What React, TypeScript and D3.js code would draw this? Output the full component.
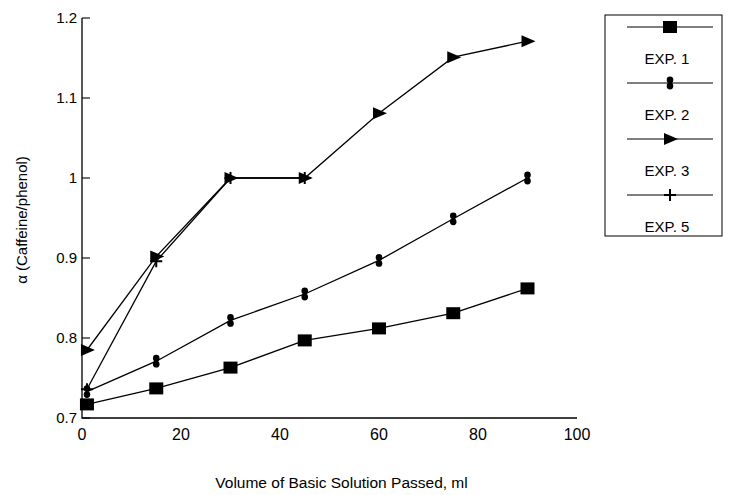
import React from "react";
import * as d3 from "d3";

const volumes = [1, 15, 30, 45, 60, 75, 90];
const exp1 = [0.717, 0.737, 0.763, 0.797, 0.812, 0.831, 0.862];
const exp2 = [0.733, 0.771, 0.822, 0.855, 0.897, 0.949, 1.0];
const exp3 = [0.785, 0.902, 1.0, 1.0, 1.081, 1.151, 1.171];
const exp5Volumes = [1, 15, 30, 45];
const exp5 = [0.736, 0.896, 1.0, 1.0];

const yTicks = [0.7, 0.8, 0.9, 1, 1.1, 1.2];
const xTicks = [0, 20, 40, 60, 80, 100];
const legendLabels = ["EXP. 1", "EXP. 2", "EXP. 3", "EXP. 5"];

const W = 730;
const H = 495;
const x = d3.scaleLinear().domain([0, 100]).range([82, 577]);
const y = d3.scaleLinear().domain([0.7, 1.2]).range([418, 18]);
const font = "'Liberation Sans', 'DejaVu Sans', sans-serif";

type Shape = "square" | "dots" | "tri" | "plus";

const Marker = ({ shape, cx, cy }: { shape: Shape; cx: number; cy: number }) => {
  if (shape === "square")
    return <rect x={cx - 7} y={cy - 6} width={14} height={12} fill="#000" />;
  if (shape === "dots")
    return (
      <g fill="#000">
        <ellipse cx={cx} cy={cy - 3} rx={3.3} ry={3.4} />
        <ellipse cx={cx} cy={cy + 3} rx={3.3} ry={3.4} />
      </g>
    );
  if (shape === "tri")
    return <path d={`M${cx - 6},${cy - 6}L${cx + 8},${cy}L${cx - 6},${cy + 6}Z`} fill="#000" />;
  return (
    <path d={`M${cx - 6},${cy}H${cx + 6}M${cx},${cy - 6}V${cy + 6}`} stroke="#000" strokeWidth={2} />
  );
};

const series: { xs: number[]; ys: number[]; shape: Shape }[] = [
  { xs: volumes, ys: exp1, shape: "square" },
  { xs: volumes, ys: exp2, shape: "dots" },
  { xs: volumes, ys: exp3, shape: "tri" },
  { xs: exp5Volumes, ys: exp5, shape: "plus" },
];

export default function App() {
  const line = d3
    .line<[number, number]>()
    .x((d) => x(d[0]))
    .y((d) => y(d[1]));

  return (
    <svg
      width={W}
      height={H}
      style={{ position: "absolute", left: 0, top: 0, background: "#fff" }}
      fontFamily={font}
    >
      {/* axes */}
      <path d={`M${x(0)},${y(1.2)}V${y(0.7)}H${x(100)}`} fill="none" stroke="#000" strokeWidth={1.3} />
      {yTicks.map((t) => (
        <g key={t}>
          <line x1={x(0)} x2={x(0) + 8} y1={y(t)} y2={y(t)} stroke="#000" strokeWidth={1.1} />
          <text x={x(0) - 5} y={y(t)} dy="0.35em" textAnchor="end" fontSize={15}>
            {String(t)}
          </text>
        </g>
      ))}
      {xTicks.map((t) => (
        <text key={t} x={x(t)} y={434} dy="0.35em" textAnchor="middle" fontSize={16}>
          {t}
        </text>
      ))}
      <text x={(x(0) + x(100)) / 2 + 12} y={483} dy="0.35em" textAnchor="middle" fontSize={15.5}>
        Volume of Basic Solution Passed, ml
      </text>
      <text transform={`translate(22,220) rotate(-90)`} dy="0.35em" textAnchor="middle" fontSize={15}>
        α (Caffeine/phenol)
      </text>

      {/* series */}
      {series.map((s, i) => {
        const pts = s.xs.map((v, j) => [v, s.ys[j]] as [number, number]);
        return (
          <g key={i}>
            <path d={line(pts) ?? ""} fill="none" stroke="#000" strokeWidth={1.3} />
            {pts.map((p, j) => (
              <Marker key={j} shape={s.shape} cx={x(p[0])} cy={y(p[1])} />
            ))}
          </g>
        );
      })}

      {/* legend */}
      <rect x={605} y={15} width={117} height={221} fill="none" stroke="#000" strokeWidth={1} />
      {legendLabels.map((lab, i) => {
        const ly = 27 + i * 56;
        return (
          <g key={lab}>
            <line x1={627} x2={713} y1={ly} y2={ly} stroke="#000" strokeWidth={1.2} />
            <Marker shape={series[i].shape} cx={670} cy={ly} />
            <text x={667} y={ly + 32} dy="0.35em" textAnchor="middle" fontSize={15}>
              {lab}
            </text>
          </g>
        );
      })}
    </svg>
  );
}
